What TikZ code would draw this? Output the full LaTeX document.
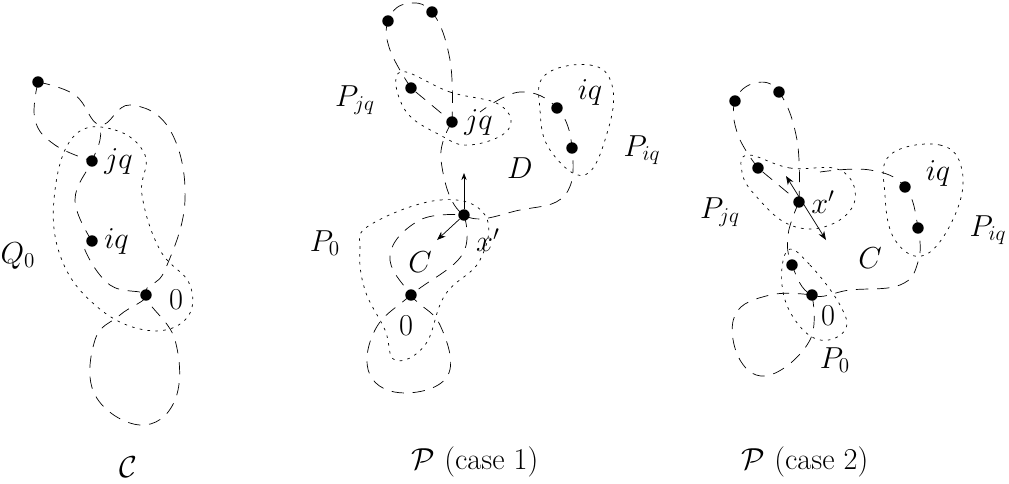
\documentclass[tikz,border=0pt]{standalone}
\usepackage{amssymb}
\usetikzlibrary{arrows.meta}
\begin{document}
\begin{tikzpicture}[
            x=0.02cm, y=-0.02cm,
            pt/.style={circle, fill=black, inner sep=0pt, minimum size=6.5pt},
            curve/.style={dash pattern=on 7pt off 5pt, thin},
            region/.style={dash pattern=on 1.5pt off 3pt, thin},
            lbl/.style={font=\LARGE},
        ]
        \useasboundingbox (0,0) rectangle (1009,484);

        % C
        \node[pt] (a1) at (38,82) {};
        \node[pt] (a2) at (92,161) {};
        \node[pt] (a3) at (92,241) {};
        \node[pt] (a4) at (146,295) {};
        \node[lbl, right] at (a2.east) {\(jq\)};
        \node[lbl, right] at (a3.east) {\(iq\)};
        \node[lbl] at (176,300) {\(0\)};
        \node[lbl] at (18,256) {\(Q_0\)};
        \node[lbl] at (128,467) {\(\mathcal{C}\)};
        \draw[curve] plot[smooth, tension=0.7] coordinates {(38,82) (75,95) (100,125) (130,105) (170,130) (185,200) (165,270) (146,295) (175,340) (175,400) (140,425) (95,395) (95,340) (120,315) (146,295) (110,285) (85,250) (92,241)};
        \draw[curve] plot[smooth, tension=0.7] coordinates {(92,241) (75,200) (92,161) (100,140) (100,125)};
        \draw[curve] plot[smooth, tension=0.7] coordinates {(38,82) (35,120) (55,145) (92,161)};
        \draw[region] plot[smooth cycle, tension=0.7] coordinates {(75,135) (115,130) (145,155) (142,195) (160,250) (190,285) (185,320) (145,330) (95,305) (60,255) (55,190)};

        % P case 1
        \node[pt] (b1) at (388,21) {};
        \node[pt] (b2) at (432,12) {};
        \node[pt] (b3) at (411,88) {};
        \node[pt] (b4) at (452,122) {};
        \node[pt] (b5) at (557,108) {};
        \node[pt] (b6) at (572,148) {};
        \node[pt] (b7) at (464,215) {};
        \node[pt] (b8) at (411,295) {};
        \node[lbl, right] at (b4.east) {\(jq\)};
        \node[lbl] at (590,92) {\(iq\)};
        \node[lbl] at (642,150) {\(P_{iq}\)};
        \node[lbl] at (355,100) {\(P_{jq}\)};
        \node[lbl] at (520,168) {\(D\)};
        \node[lbl] at (488,240) {\(x'\)};
        \node[lbl] at (420,262) {\(C\)};
        \node[lbl] at (325,243) {\(P_0\)};
        \node[lbl] at (406,326) {\(0\)};
        \node[lbl] at (475,462) {\(\mathcal{P}\) (case 1)};
        \draw[curve] plot[smooth, tension=0.7] coordinates {(411,88) (390,50) (388,21) (405,4) (432,12) (450,60) (452,122)};
        \draw[curve] (b3) -- (b4);
        \draw[curve] plot[smooth, tension=0.7] coordinates {(452,122) (441,160) (464,215) (520,210) (565,195) (572,148) (557,108) (520,92) (480,112)};
        \draw[curve] plot[smooth, tension=0.7] coordinates {(464,215) (462,255) (411,295) (375,330) (370,375) (405,393) (448,375) (440,325) (411,295) (390,255) (420,220) (464,215)};
        \draw[region] plot[smooth cycle, tension=0.7] coordinates {(400,72) (450,92) (500,105) (508,130) (470,145) (440,135) (405,110)};
        \draw[region] plot[smooth cycle, tension=0.7] coordinates {(545,75) (590,65) (612,85) (608,130) (585,175) (550,150) (540,110)};
        \draw[region] plot[smooth cycle, tension=0.7] coordinates {(370,225) (440,200) (485,215) (480,260) (445,295) (425,345) (395,360) (385,330) (365,290) (360,250)};
        \draw[-{Stealth[length=4pt]}] (b7) -- ++(0,-42);
        \draw[-{Stealth[length=5pt]}] (b7) -- ++(-27,25);

        % P case 2
        \node[pt] (c1) at (735,101) {};
        \node[pt] (c2) at (779,92) {};
        \node[pt] (c3) at (758,168) {};
        \node[pt] (c4) at (799,202) {};
        \node[pt] (c5) at (905,187) {};
        \node[pt] (c6) at (918,228) {};
        \node[pt] (c7) at (792,265) {};
        \node[pt] (c8) at (812,295) {};
        \node[lbl, right] at (c4.east) {\(x'\)};
        \node[lbl] at (938,173) {\(iq\)};
        \node[lbl] at (988,230) {\(P_{iq}\)};
        \node[lbl] at (720,212) {\(P_{jq}\)};
        \node[lbl] at (870,258) {\(C\)};
        \node[lbl] at (828,316) {\(0\)};
        \node[lbl] at (835,360) {\(P_0\)};
        \node[lbl] at (805,462) {\(\mathcal{P}\) (case 2)};
        \draw[curve] plot[smooth, tension=0.7] coordinates {(758,168) (738,135) (735,101) (755,83) (779,92) (797,140) (799,202)};
        \draw[curve] (c3) -- (c4);
        \draw[curve] plot[smooth, tension=0.7] coordinates {(799,202) (788,235) (792,265) (812,295) (850,290) (900,285) (918,262) (918,228) (905,187) (870,170) (820,172)};
        \draw[curve] plot[smooth, tension=0.7] coordinates {(812,295) (810,340) (770,375) (740,360) (735,315) (770,295) (812,295)};
        \draw[region] plot[smooth cycle, tension=0.7] coordinates {(748,155) (790,168) (840,170) (855,200) (830,225) (790,225) (755,195) (742,172)};
        \draw[region] plot[smooth cycle, tension=0.7] coordinates {(890,155) (940,145) (962,170) (955,215) (925,255) (895,240) (885,195)};
        \draw[region] plot[smooth cycle, tension=0.7] coordinates {(788,250) (810,265) (840,305) (845,330) (820,340) (795,320) (782,285)};
        \draw[{Stealth[length=5pt]}-{Stealth[length=5pt]}] (786,176) -- (826,240);
    \end{tikzpicture}
\end{document}
